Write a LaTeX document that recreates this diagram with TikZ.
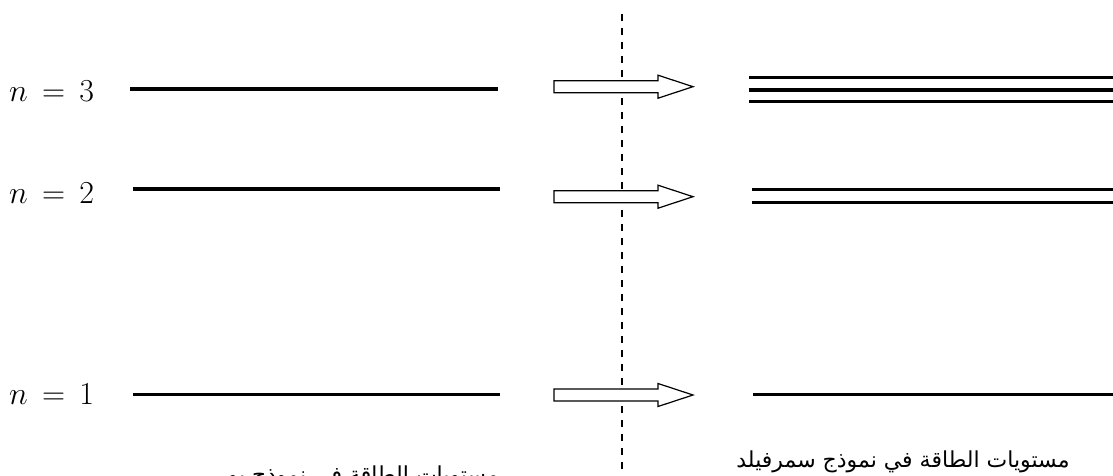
\RequirePackage{fix-cm}
\documentclass[tikz,border=0pt]{standalone}
\usepackage{fontspec}
\newfontfamily\arabicfont[Script=Arabic]{DejaVu Sans}
\TeXXeTstate=1
\begin{document}
\begin{tikzpicture}[x=1pt,y=-1pt,
  level/.style={line width=3.5pt},
  blockarrow/.style={draw=black,fill=white,line width=1.2pt,line join=miter},
  divider/.style={line width=1.2pt,dash pattern=on 7pt off 7pt},
  nlabel/.style={anchor=base west,inner sep=0pt,font=\fontsize{32}{36}\selectfont},
  caption/.style={anchor=base,inner sep=0pt,font=\arabicfont\fontsize{22}{26}\selectfont}]
\useasboundingbox (0,0) rectangle (1113,476);
\clip (0,0) rectangle (1113,476);
% divider
\coordinate (dtop) at (622,14);
\coordinate (dbot) at (622,480);
\draw[divider] (dtop) -- (dbot);
% labels
\node[nlabel] (n3) at (9,102) {$n\mkern3mu=\mkern3mu3$};
\node[nlabel] (n2) at (9,203) {$n\mkern3mu=\mkern3mu2$};
\node[nlabel] (n1) at (9,404) {$n\mkern3mu=\mkern3mu1$};
% Bohr levels
\coordinate (b3a) at (130,89); \coordinate (b3b) at (498,89);
\coordinate (b2a) at (133,189); \coordinate (b2b) at (500,189);
\coordinate (b1a) at (133,394.5); \coordinate (b1b) at (500,394.5);
\draw[level] (b3a) -- (b3b);
\draw[level] (b2a) -- (b2b);
\draw[level] (b1a) -- (b1b);
% block arrows
\foreach \yc/\nm in {86.7/a3,196.7/a2,395/a1}{
  \draw[blockarrow] (554,\yc-6) -- (658,\yc-6) -- (658,\yc-11.5) -- (693,\yc)
    -- (658,\yc+11.5) -- (658,\yc+6) -- (554,\yc+6) -- cycle;
}
% Sommerfeld levels
\coordinate (s3a) at (749,77.5); \coordinate (s3b) at (1113,77.5);
\coordinate (s3c) at (749,90); \coordinate (s3d) at (1113,90);
\coordinate (s3e) at (749,101.5); \coordinate (s3f) at (1113,101.5);
\draw[level] (s3a) -- (s3b);
\draw[level] (s3c) -- (s3d);
\draw[level] (s3e) -- (s3f);
\coordinate (s2a) at (752,189.5); \coordinate (s2b) at (1113,189.5);
\coordinate (s2c) at (752,202.5); \coordinate (s2d) at (1113,202.5);
\draw[level] (s2a) -- (s2b);
\draw[level] (s2c) -- (s2d);
\coordinate (s1a) at (753,394.5); \coordinate (s1b) at (1113,394.5);
\draw[level] (s1a) -- (s1b);
% captions
\node[caption] (cbohr) at (358,482) {\beginR مستويات الطاقة في نموذج بور\endR};
\node[caption] (csom) at (903,467) {\beginR مستويات الطاقة في نموذج سمرفيلد\endR};
\end{tikzpicture}
\end{document}
